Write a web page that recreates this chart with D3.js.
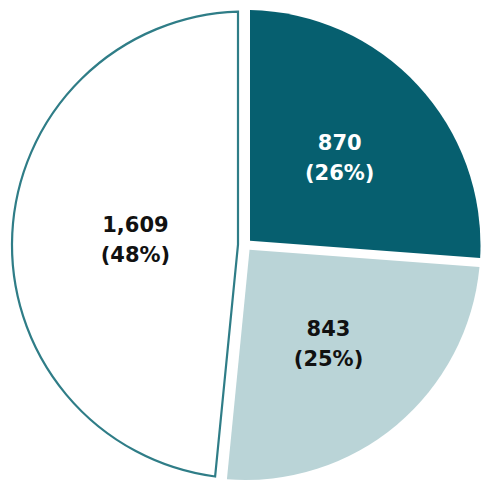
<!DOCTYPE html>
<html lang="en">

<head>
    <meta charset="UTF-8">
    <title>pie chart</title>
    <script src="https://cdn.jsdelivr.net/npm/d3@7"></script>
    <style>
        body {
            margin: 0;
            background-color: #fff;
        }
    </style>
</head>

<body>
</body>

<script>
    // values, clockwise from 12 o'clock
    let values = [870, 843, 1609];
    let fills = ["#065f6f", "#bad4d7", "#ffffff"];
    let textColours = ["#ffffff", "#111111", "#111111"];
    let outlineColour = "#2f7d87";

    let width = 485;
    let height = 490;
    let cx = 245.5, cy = 245, radius = 235;
    let gap = 4.5;        // half of the white gap between filled slices
    let outlineGap = 7.5; // the white slice's outline sits a bit further in

    let total = d3.sum(values);
    let formatPercent = d3.format(".0%");
    let formatNumber = d3.format(",");

    let pie = d3.pie().sort(null).value(d => d);
    let arcs = pie(values);

    // wedge whose two straight edges are pushed inward by off px (parallel gaps)
    function slicePath(d, r, off) {
        let a0 = d.startAngle, a1 = d.endAngle;
        let da = Math.asin(off / r);
        let half = (a1 - a0) / 2, mid = (a0 + a1) / 2;
        let apex = off / Math.sin(half);
        let p = d3.path();
        p.moveTo(apex * Math.sin(mid), -apex * Math.cos(mid));
        p.lineTo(r * Math.sin(a0 + da), -r * Math.cos(a0 + da));
        p.arc(0, 0, r, a0 + da - Math.PI / 2, a1 - da - Math.PI / 2);
        p.closePath();
        return p.toString();
    }

    let svg = d3.select("body").append("svg")
        .attr("width", width)
        .attr("height", height);

    let g = svg.append("g")
        .attr("transform", "translate(" + cx + "," + cy + ")");

    g.selectAll("path")
        .data(arcs)
        .enter().append("path")
        .attr("d", (d, i) => fills[i] === "#ffffff"
            ? slicePath(d, radius - 1.5, outlineGap)
            : slicePath(d, radius, gap))
        .style("fill", (d, i) => fills[i])
        .style("stroke", (d, i) => fills[i] === "#ffffff" ? outlineColour : "none")
        .style("stroke-width", 2.2)
        .style("stroke-linejoin", "miter");

    // label sits between half radius and the wedge's centroid
    function labelPos(d) {
        let half = (d.endAngle - d.startAngle) / 2, mid = (d.startAngle + d.endAngle) / 2;
        let centroid = (2 / 3) * radius * Math.sin(half) / half;
        let dist = (0.5 * radius + centroid) / 2;
        return [dist * Math.sin(mid), -dist * Math.cos(mid)];
    }

    let labels = g.selectAll("text")
        .data(arcs)
        .enter().append("text")
        .attr("text-anchor", "middle")
        .style("font-family", "'DejaVu Sans', sans-serif")
        .style("font-weight", "bold")
        .style("font-size", "21px")
        .style("fill", (d, i) => textColours[i]);

    labels.append("tspan")
        .attr("x", d => labelPos(d)[0])
        .attr("y", d => labelPos(d)[1] - 8)
        .text(d => formatNumber(d.value));

    labels.append("tspan")
        .attr("x", d => labelPos(d)[0])
        .attr("y", d => labelPos(d)[1] + 22)
        .text(d => "(" + formatPercent(d.value / total) + ")");
</script>

</html>
